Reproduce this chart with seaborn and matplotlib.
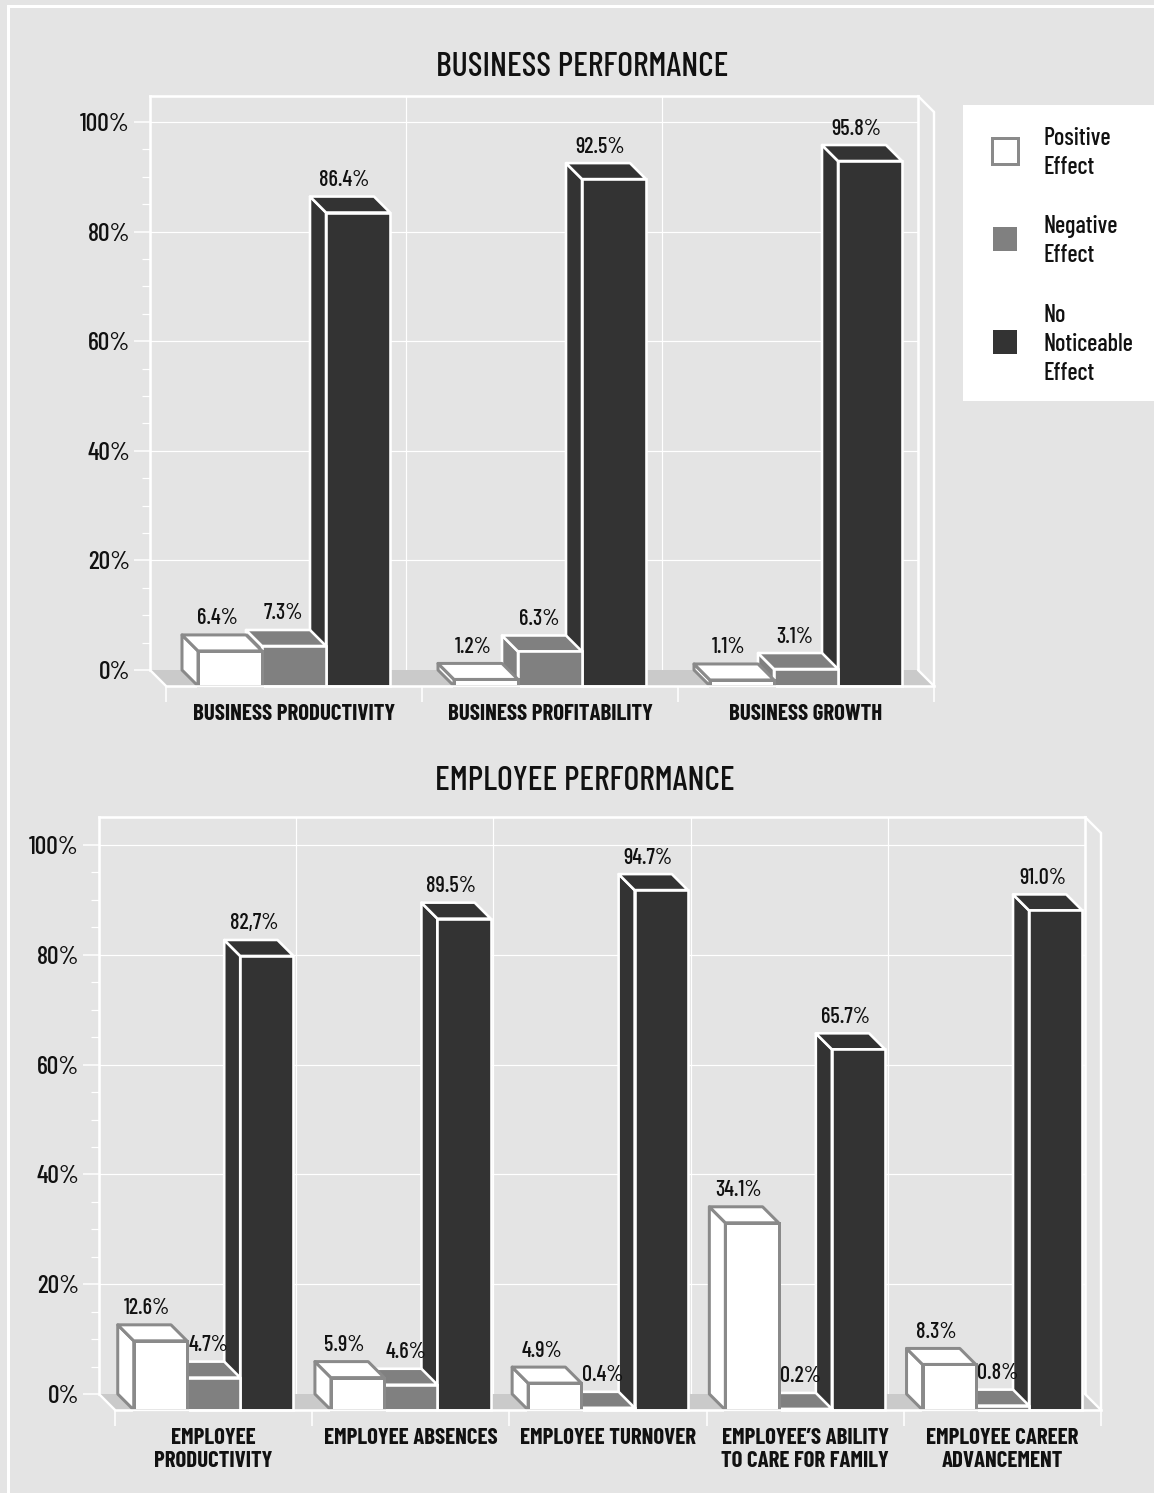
import matplotlib
matplotlib.use("Agg")
import matplotlib.pyplot as plt
from matplotlib.legend_handler import HandlerPatch
from matplotlib.lines import Line2D
from matplotlib.patches import Patch, Polygon, Rectangle
from matplotlib.ticker import FixedLocator, MultipleLocator, FuncFormatter
from matplotlib.transforms import ScaledTranslation
import logging
import pandas as pd
import seaborn as sns

logging.getLogger("matplotlib.font_manager").setLevel(logging.ERROR)

# ---------- data ----------
series_names = ["Positive Effect", "Negative Effect", "No Noticeable Effect"]

top_title = "BUSINESS PERFORMANCE"
top_categories = ["BUSINESS PRODUCTIVITY", "BUSINESS PROFITABILITY", "BUSINESS GROWTH"]
top_positive = [6.4, 1.2, 1.1]
top_negative = [7.3, 6.3, 3.1]
top_none = [86.4, 92.5, 95.8]
top_pos_labels = ["6.4%", "1.2%", "1.1%"]
top_neg_labels = ["7.3%", "6.3%", "3.1%"]
top_none_labels = ["86.4%", "92.5%", "95.8%"]

bot_title = "EMPLOYEE PERFORMANCE"
bot_categories = ["EMPLOYEE\nPRODUCTIVITY", "EMPLOYEE ABSENCES", "EMPLOYEE TURNOVER",
                  "EMPLOYEE\u2019S ABILITY\nTO CARE FOR FAMILY", "EMPLOYEE CAREER\nADVANCEMENT"]
bot_positive = [12.6, 5.9, 4.9, 34.1, 8.3]
bot_negative = [5.9, 4.6, 0.4, 0.2, 0.8]   # bar height as drawn in the picture
bot_none = [82.7, 89.5, 94.7, 65.7, 91.0]
bot_pos_labels = ["12.6%", "5.9%", "4.9%", "34.1%", "8.3%"]
bot_neg_labels = ["4.7%", "4.6%", "0.4%", "0.2%", "0.8%"]
bot_none_labels = ["82,7%", "89.5%", "94.7%", "65.7%", "91.0%"]

# ---------- style ----------
W, H, DPI = 1154, 1493, 100
BG, FLOOR, WHITE, GREY, DARK, EDGE = "#e4e4e4", "#cacaca", "#ffffff", "#808080", "#333333", "#8a8a8a"
FACE = [WHITE, GREY, DARK]
BAR_EDGE = [EDGE, WHITE, WHITE]
PX = 72 / DPI
DEPTH = 16

sns.set_theme(style="white")
plt.rcParams["font.family"] = ["Barlow Condensed", "Liberation Sans", "DejaVu Sans"]
plt.rcParams["font.weight"] = 500

fig = plt.figure(figsize=(W / DPI, H / DPI), dpi=DPI, facecolor=BG)


def px_axes(x0, y0, x1, y1, **kw):
    return fig.add_axes([x0 / W, 1 - y1 / H, (x1 - x0) / W, (y1 - y0) / H], **kw)


fig.add_artist(Line2D([8 / W, 8 / W, 1], [0, 1 - 5.5 / H, 1 - 5.5 / H], transform=fig.transFigure,
                      color=WHITE, lw=3 * PX, solid_joinstyle="miter"))


def panel(title, title_xy, cats, pos, neg, none, labels, wall, width, ymax, dx):
    xl, yt, xr, y0 = wall
    n = len(cats)
    back = px_axes(xl, yt, xr, y0, facecolor="none")
    front = px_axes(xl + DEPTH, yt + DEPTH, xr + DEPTH, y0 + DEPTH, facecolor="none")
    for a in (back, front):
        a.set_xlim(-0.5, n - 0.5)
        a.set_ylim(0, ymax)
    edges = [i - 0.5 for i in range(n + 1)]

    # back wall: grid and value axis
    back.yaxis.set_major_locator(MultipleLocator(20))
    back.yaxis.set_minor_locator(FixedLocator(list(range(5, 100, 5))))
    back.yaxis.set_major_formatter(FuncFormatter(lambda v, _: f"{v:.0f}%"))
    back.tick_params(axis="y", which="major", length=16 * PX, width=1.5 * PX, color=WHITE, labelsize=18.5,
                     labelcolor="#111111", pad=4 * PX, left=True)
    back.tick_params(axis="y", which="minor", length=8 * PX, width=1.2 * PX, color=WHITE, left=True)
    back.set_xticks([])
    for v in range(20, 101, 20):
        back.axhline(v, color=WHITE, lw=1.2 * PX, zorder=1)
    for e in edges[1:-1]:
        back.axvline(e, color=WHITE, lw=1.2 * PX, zorder=1)
    for s, sp in back.spines.items():
        sp.set_visible(s in ("left", "top", "right"))
        sp.set_color(WHITE)
        sp.set_linewidth(2.6 * PX)
    back.set_title(title, x=(title_xy[0] - xl) / (xr - xl), y=(y0 - title_xy[1]) / (y0 - yt),
                   va="center", ha="center", fontsize=24.5, fontweight=500, color="#111111", pad=0)

    # floor and outer frame, built from the two planes
    to_back = front.transData + ScaledTranslation(-DEPTH / DPI, DEPTH / DPI, fig.dpi_scale_trans)
    floor = [to_back.transform((-0.5, 0)), to_back.transform((n - 0.5, 0)),
             front.transData.transform((n - 0.5, 0)), front.transData.transform((-0.5, 0))]
    front.add_patch(Polygon(floor, closed=True, transform=None, fc=FLOOR, ec="none", zorder=0.5, clip_on=False))
    tr_back, tr_front = to_back.transform((n - 0.5, ymax)), front.transData.transform((n - 0.5, ymax))
    for a_pt, b_pt in [(floor[0], floor[3]), (floor[1], floor[2]), (tr_back, tr_front), (tr_front, floor[2])]:
        front.plot([a_pt[0], b_pt[0]], [a_pt[1], b_pt[1]], transform=None, color=WHITE,
                   lw=2.4 * PX, zorder=0.8, clip_on=False)

    # bars
    df = pd.DataFrame({
        "category": cats * 3,
        "series": sum([[s] * n for s in series_names], []),
        "value": list(pos) + list(neg) + list(none),
    })
    sns.barplot(data=df, x="category", y="value", hue="series", hue_order=series_names,
                order=cats, palette=FACE, width=width, gap=0, dodge=True, saturation=1,
                errorbar=None, legend=False, ax=front)
    front.set_xlim(-0.5, n - 0.5)
    front.set_ylim(0, ymax)
    for s_i, container in enumerate(front.containers):
        z = 5 - s_i
        lw = (3 if s_i == 0 else 2.6) * PX
        for c_i, bar in enumerate(container):
            bar.set(edgecolor=BAR_EDGE[s_i], linewidth=lw, zorder=z + 0.2, clip_on=False)
            x0, w, h = bar.get_x(), bar.get_width(), bar.get_height()
            fr = [front.transData.transform(p) for p in [(x0, 0), (x0, h), (x0 + w, h)]]
            bk = [to_back.transform(p) for p in [(x0, 0), (x0, h), (x0 + w, h)]]
            for poly in ([fr[0], fr[1], bk[1], bk[0]], [fr[1], fr[2], bk[2], bk[1]]):
                front.add_patch(Polygon(poly, closed=True, transform=None, fc=FACE[s_i],
                                        ec=BAR_EDGE[s_i], lw=lw, joinstyle="round",
                                        zorder=z, clip_on=False))
            lx, ly = (bk[1][0] + bk[2][0]) / 2 + dx[s_i], bk[1][1]
            front.annotate(labels[s_i][c_i], xy=(lx, ly), xycoords="figure pixels",
                           xytext=(0, 16.5 * PX), textcoords="offset points", ha="center", va="center",
                           fontsize=16, fontweight=500, color="#111111", zorder=10, annotation_clip=False)

    # category axis
    front.set_xlabel("")
    front.set_ylabel("")
    front.yaxis.set_visible(False)
    front.xaxis.set_major_locator(FixedLocator(edges))
    front.xaxis.set_major_formatter(FuncFormatter(lambda v, _: ""))
    front.xaxis.set_minor_locator(FixedLocator(list(range(n))))
    front.set_xticklabels(cats, minor=True, fontweight="bold", fontsize=16.5, color="#111111",
                          linespacing=1.18, va="top")
    front.tick_params(axis="x", which="major", length=16 * PX, width=1.6 * PX, color=WHITE, bottom=True)
    front.tick_params(axis="x", which="minor", length=0, pad=18 * PX)
    for s, sp in front.spines.items():
        sp.set_visible(s == "bottom")
        sp.set_color(WHITE)
        sp.set_linewidth(2.6 * PX)
        sp.set_zorder(20)
    return back, front


panel(top_title, (582, 67), top_categories, top_positive, top_negative, top_none,
      [top_pos_labels, top_neg_labels, top_none_labels],
      (150, 96, 918, 670), 0.75, 574 / 5.48, [3, 5, 2])
panel(bot_title, (585, 781), bot_categories, bot_positive, bot_negative, bot_none,
      [bot_pos_labels, bot_neg_labels, bot_none_labels],
      (99, 817, 1085, 1394), 0.81, 577 / 5.49, [3, 11, 3])

# ---------- legend ----------
fig.add_artist(Rectangle((963 / W, 1 - 401 / H), 191 / W, 296 / H, transform=fig.transFigure,
                         fc=WHITE, ec="none", zorder=3))


def swatch(legend, orig_handle, xdescent, ydescent, width, height, fontsize):
    size = (26 if orig_handle.get_linewidth() > 0 else 24) * PX
    lift = 3 * PX
    return Rectangle((width / 2 - size / 2 - xdescent, height / 2 - size / 2 - ydescent + lift), size, size)


handles = [Patch(fc=WHITE, ec=EDGE, lw=3 * PX), Patch(fc=GREY, ec=WHITE, lw=0), Patch(fc=DARK, ec=WHITE, lw=0)]
leg = fig.legend(handles, ["Positive\nEffect", "Negative\nEffect", "No\nNoticeable\nEffect"],
                 loc="upper left", bbox_to_anchor=(988 / W, 1 - 127 / H), frameon=False, fontsize=17.5,
                 handlelength=1.4, handleheight=1, handletextpad=0.9, labelspacing=1.5, borderpad=0, borderaxespad=0,
                 handler_map={Patch: HandlerPatch(patch_func=swatch)})
leg.set_zorder(4)
for t in leg.get_texts():
    t.set_color("#111111")
    t.set_linespacing(1.33)

fig.savefig("out.png", dpi=DPI, facecolor=BG)
